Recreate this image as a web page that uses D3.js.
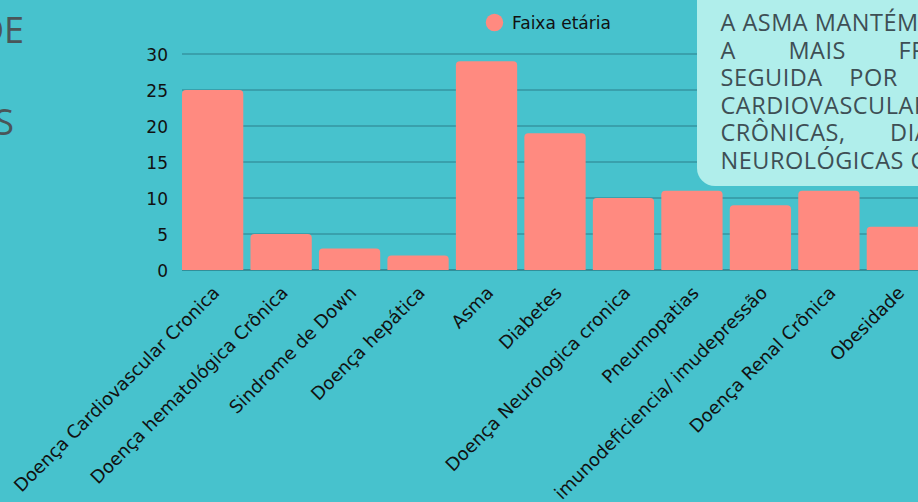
<!DOCTYPE html>
<html>
<head>
<meta charset="utf-8">
<script src="https://cdn.jsdelivr.net/npm/d3@7"></script>
<style>
  html, body { margin:0; padding:0; width:918px; height:502px; overflow:hidden; background:#47C2CD; }
  #wrap { position:relative; width:918px; height:502px; overflow:hidden; }
  svg { position:absolute; left:0; top:0; }
  #note { position:absolute; left:697px; top:-30px; width:400px; height:216px; padding:0 23.5px;
          background:#B0EEEB; border-radius:18px; font-family:"Open Sans", sans-serif; font-size:23.5px;
          letter-spacing:0.5px; color:#3E4F55; box-sizing:content-box; }
  #note .ln { line-height:27.6px; height:27.6px; white-space:nowrap; text-align:left; }
</style>
</head>
<body>
<div id="wrap"></div>
<script>
const categories = ["Doença Cardiovascular Cronica","Doença hematológica Crônica","Sindrome de Down","Doença hepática","Asma","Diabetes","Doença Neurologica cronica","Pneumopatias","imunodeficiencia/ imudepressão","Doença Renal Crônica","Obesidade"];
const values = [25,5,3,2,29,19,10,11,9,11,6];
const yTicks = [0,5,10,15,20,25,30];
const seriesName = "Faixa etária";
const noteLines = ["A ASMA MANTÉM-SE COMO","A MAIS FREQUENTE,","SEGUIDA POR DOENÇAS","CARDIOVASCULARES","CRÔNICAS, DIABETES E","NEUROLÓGICAS CRÔNICAS."];
const noteWordGaps = [0, 46, 20, 0, 38, 0];
const titleParts = ["DE","S"];

const W = 918, H = 502;
const wrap = d3.select("#wrap");
const svg = wrap.append("svg").attr("width", W).attr("height", H);

const x = d3.scaleBand().domain(categories).range([182, 928]).paddingInner(0.105).paddingOuter(0);
const y = d3.scaleLinear().domain([0, 30]).range([270, 54]);

const axisFont = "'DejaVu Sans', sans-serif";

// gridlines
svg.append("g").selectAll("line").data(yTicks).join("line")
  .attr("x1", 182).attr("x2", W)
  .attr("y1", d => y(d)).attr("y2", d => y(d))
  .attr("stroke", d => d === 0 ? "#2A7E88" : "#3494A0").attr("stroke-width", 1.3);

// y axis labels
const yAxis = d3.axisLeft(y).tickValues(yTicks).tickSize(0).tickPadding(14);
const ya = svg.append("g").attr("transform", "translate(182,0)").call(yAxis);
ya.select(".domain").remove();
ya.selectAll("text").attr("font-family", axisFont).attr("font-size", 17).attr("fill", "#111").attr("dy", "0.36em");

// bars with rounded top
const r = 4;
svg.append("g").selectAll("path").data(values).join("path")
  .attr("fill", "#FF8A80")
  .attr("d", (v, i) => {
    const x0 = x(categories[i]), w = x.bandwidth(), y0 = y(v), yb = y(0);
    return `M${x0},${yb}V${y0 + r}Q${x0},${y0} ${x0 + r},${y0}H${x0 + w - r}Q${x0 + w},${y0} ${x0 + w},${y0 + r}V${yb}Z`;
  });

// x labels
svg.append("g").selectAll("text").data(categories).join("text")
  .attr("transform", d => `translate(${x(d) + x.bandwidth() / 2 + 8},294) rotate(-45)`)
  .attr("text-anchor", "end")
  .attr("font-family", axisFont).attr("font-size", 18).attr("fill", "#111")
  .text(d => d);

// legend
svg.append("circle").attr("cx", 494.5).attr("cy", 22.5).attr("r", 8.7).attr("fill", "#FF8A80");
svg.append("text").attr("x", 512).attr("y", 29).attr("font-family", axisFont).attr("font-size", 17)
  .attr("fill", "#111").text(seriesName);

// cut-off title on the left
svg.append("text").attr("x", 24).attr("y", 43).attr("text-anchor", "end")
  .attr("font-family", "'Open Sans', sans-serif").attr("font-size", 36).attr("fill", "#4A5558").text(titleParts[0]);
svg.append("text").attr("x", 14).attr("y", 135).attr("text-anchor", "end")
  .attr("font-family", "'Open Sans', sans-serif").attr("font-size", 36).attr("fill", "#4A5558").text(titleParts[1]);

// annotation box
const note = wrap.append("div").attr("id", "note");
note.append("div").style("height", "39px");
note.selectAll("div.ln").data(noteLines).join("div")
  .attr("class", "ln")
  .style("word-spacing", (d, i) => noteWordGaps[i] + "px")
  .text(d => d);
</script>
</body>
</html>
